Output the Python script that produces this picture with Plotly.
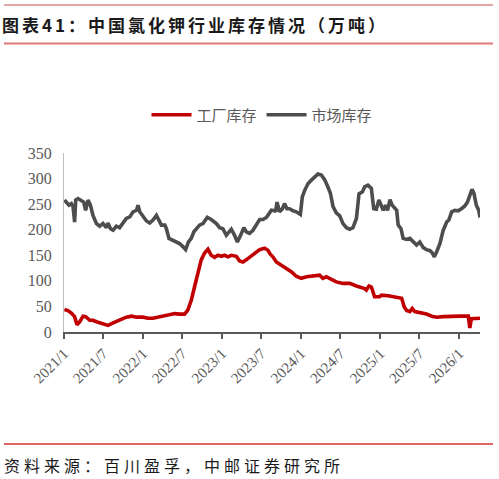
import plotly.graph_objects as go

# ---------------- data ----------------
market_dates = [
    "2021-01-03", "2021-01-12", "2021-01-24", "2021-02-04", "2021-02-12", "2021-02-19", "2021-02-24",
    "2021-03-07", "2021-03-22", "2021-04-02", "2021-04-11", "2021-04-22", "2021-05-03", "2021-05-15",
    "2021-05-31", "2021-06-15", "2021-06-30", "2021-07-16", "2021-07-23", "2021-08-04", "2021-08-16",
    "2021-08-31", "2021-09-15", "2021-10-01", "2021-10-16", "2021-11-01", "2021-11-16", "2021-12-02",
    "2021-12-09", "2021-12-17", "2022-01-01", "2022-01-17", "2022-02-01", "2022-02-16", "2022-03-04",
    "2022-03-16", "2022-03-27", "2022-04-12", "2022-04-19", "2022-05-01",
    "2022-05-19", "2022-06-04", "2022-06-19", "2022-07-04", "2022-07-17", "2022-07-30", "2022-08-12",
    "2022-08-24", "2022-09-04", "2022-09-19", "2022-10-05", "2022-10-25", "2022-11-12", "2022-12-06",
    "2022-12-21", "2023-01-05", "2023-01-21", "2023-01-31", "2023-02-13", "2023-02-28", "2023-03-13",
    "2023-03-28", "2023-04-12", "2023-04-23", "2023-05-08", "2023-05-24", "2023-06-08", "2023-06-24",
    "2023-07-09", "2023-07-25", "2023-08-04", "2023-08-17", "2023-09-01",
    "2023-09-06", "2023-09-12", "2023-09-24", "2023-10-07", "2023-10-17", "2023-10-28", "2023-11-09",
    "2023-11-25", "2023-12-10", "2023-12-29", "2024-01-07", "2024-01-18", "2024-02-02", "2024-02-18",
    "2024-03-04", "2024-03-19", "2024-04-04", "2024-04-19", "2024-05-04", "2024-05-16", "2024-05-28",
    "2024-06-12", "2024-06-28", "2024-07-13", "2024-07-29", "2024-08-13", "2024-08-28", "2024-09-13",
    "2024-09-25", "2024-10-11", "2024-10-21", "2024-11-05", "2024-11-21", "2024-12-02", "2024-12-14",
    "2024-12-26",
    "2025-01-15", "2025-01-26", "2025-02-04", "2025-02-15", "2025-02-25", "2025-03-10", "2025-03-18",
    "2025-03-25", "2025-04-07", "2025-04-17", "2025-05-03", "2025-05-18", "2025-06-02", "2025-06-18",
    "2025-07-03", "2025-07-19", "2025-08-03", "2025-08-19", "2025-08-29", "2025-09-08", "2025-09-19",
    "2025-10-04", "2025-10-19", "2025-11-04", "2025-11-14", "2025-11-27", "2025-12-12", "2025-12-27",
    "2026-01-11", "2026-01-26", "2026-02-08", "2026-02-19", "2026-03-01", "2026-03-10", "2026-03-21",
    "2026-04-01", "2026-04-07",
]
market_stock = [
    258, 254, 248, 251, 245, 215, 258,
    261, 258, 254, 238, 258, 248, 228,
    212, 207, 212, 204, 213, 202, 199,
    207, 204, 212, 222, 225, 235, 238,
    248, 235, 225, 217, 213, 219, 228,
    219, 209, 209, 202, 183,
    180, 176, 173, 167, 161, 176, 183,
    196, 202, 209, 212, 224, 220, 212,
    204, 202, 189, 194, 201, 189, 176,
    189, 204, 196, 193, 199, 209, 220,
    220, 224, 230, 238, 237,
    235, 254, 235, 241, 251, 241, 241,
    237, 235, 230, 264, 277, 290, 297,
    303, 309, 307, 298, 284, 271, 245,
    233, 227, 212, 204, 201, 204, 222,
    270, 274, 284, 287, 281, 241, 240,
    258,
    238, 248, 238, 259, 248, 241, 238,
    209, 202, 183, 181, 183, 176, 170,
    176, 165, 161, 159, 155, 147, 157,
    173, 199, 215, 219, 235, 238, 237,
    241, 246, 254, 268, 279, 271, 248,
    238, 224,
]

factory_dates = [
    "2021-01-03", "2021-01-19", "2021-02-04", "2021-02-19", "2021-03-02", "2021-03-15", "2021-03-30",
    "2021-04-11", "2021-04-30", "2021-05-15", "2021-05-31", "2021-06-23", "2021-07-23", "2021-08-16",
    "2021-09-15", "2021-10-16", "2021-11-09", "2021-12-02", "2022-01-01", "2022-01-24", "2022-02-16",
    "2022-03-19", "2022-04-19",
    "2022-05-04", "2022-05-28", "2022-06-19", "2022-07-12", "2022-07-27", "2022-08-12", "2022-08-27",
    "2022-09-11", "2022-09-27", "2022-10-12", "2022-10-28", "2022-11-12", "2022-11-28", "2022-12-13",
    "2022-12-29", "2023-01-13", "2023-01-28", "2023-02-13", "2023-03-08", "2023-03-23", "2023-04-08",
    "2023-04-23", "2023-05-13", "2023-06-01", "2023-06-24", "2023-07-17", "2023-08-01", "2023-08-12",
    "2023-08-24", "2023-09-09", "2023-10-02", "2023-10-25", "2023-11-17", "2023-12-10", "2024-01-02",
    "2024-01-26", "2024-02-25", "2024-03-27", "2024-04-11", "2024-04-27", "2024-05-20", "2024-06-12",
    "2024-07-13", "2024-08-13", "2024-09-13", "2024-10-06", "2024-10-21", "2024-10-29", "2024-11-10",
    "2024-11-21", "2024-12-06", "2024-12-29",
    "2025-01-07", "2025-02-07", "2025-03-10", "2025-04-10", "2025-04-22", "2025-05-03", "2025-05-18",
    "2025-05-29", "2025-06-10", "2025-07-03", "2025-08-03", "2025-08-27", "2025-09-19", "2025-10-19",
    "2025-11-27", "2026-01-04", "2026-02-12", "2026-02-19", "2026-02-26", "2026-03-21", "2026-04-07",
]
factory_stock = [
    44, 42, 37, 30, 14, 20, 31,
    30, 23, 23, 20, 17, 13, 18,
    23, 29, 31, 29, 29, 27, 27,
    30, 33,
    33, 36, 35, 35, 43, 62, 88,
    111, 141, 154, 162, 150, 146, 150,
    148, 150, 147, 150, 148, 139, 137,
    141, 148, 155, 161, 164, 160, 152,
    147, 137, 131, 124, 118, 109, 105,
    108, 109, 111, 105, 108, 103, 98,
    95, 95, 90, 88, 85, 82, 90,
    88, 69, 69,
    72, 71, 69, 66, 49, 42, 40,
    46, 40, 38, 35, 31, 29, 30,
    31, 31, 31, 8, 26, 27, 27,
]

x_tick_vals = ["2021-01-01", "2021-07-01", "2022-01-01", "2022-07-01", "2023-01-01", "2023-07-01",
               "2024-01-01", "2024-07-01", "2025-01-01", "2025-07-01", "2026-01-01"]
x_tick_text = ["2021/1", "2021/7", "2022/1", "2022/7", "2023/1", "2023/7",
               "2024/1", "2024/7", "2025/1", "2025/7", "2026/1"]
y_tick_vals = [0, 50, 100, 150, 200, 250, 300, 350]

title_text = "图表41：中国氯化钾行业库存情况（万吨）"
source_text = "资料来源：百川盈孚，中邮证券研究所"
series_names = ["工厂库存", "市场库存"]

# ---------------- figure ----------------
SERIF = "Liberation Serif, Noto Sans CJK SC, serif"
AXIS_GRAY = "#595959"

fig = go.Figure()
fig.add_trace(go.Scatter(
    x=factory_dates, y=factory_stock, name=series_names[0], mode="lines",
    line=dict(color="#C00000", width=3.6),
))
fig.add_trace(go.Scatter(
    x=market_dates, y=market_stock, name=series_names[1], mode="lines",
    line=dict(color="#4D4D4D", width=3.6),
))

fig.update_layout(
    width=499, height=479,
    margin=dict(l=64, r=19, t=153, b=147),
    paper_bgcolor="white", plot_bgcolor="white",
    showlegend=True,
    legend=dict(
        orientation="h", x=(262-64)/416, xanchor="center", y=1 + (153-115)/179, yanchor="middle",
        font=dict(family="Noto Sans CJK SC", size=15, color=AXIS_GRAY),
        itemwidth=40, bgcolor="rgba(0,0,0,0)",
    ),
    xaxis=dict(
        type="date", range=["2021-01-01", "2026-04-07"],
        tickmode="array", tickvals=x_tick_vals, ticktext=x_tick_text,
        tickangle=-45, ticks="outside", ticklen=5, tickwidth=2, tickcolor=AXIS_GRAY,
        showline=True, linecolor=AXIS_GRAY, linewidth=2,
        showgrid=False, zeroline=False,
        tickfont=dict(family=SERIF, size=15, color=AXIS_GRAY),
    ),
    yaxis=dict(
        range=[0, 350], tickmode="array", tickvals=y_tick_vals,
        showline=True, linecolor="#BFBFBF", linewidth=1,
        showgrid=False, zeroline=False, ticks="",
        tickfont=dict(family=SERIF, size=16, color=AXIS_GRAY),
        ticklabelstandoff=8,
    ),
)

# title and source
fig.add_annotation(
    text="<span style='letter-spacing:3px'><b>" + title_text + "</b></span>",
    xref="paper", yref="paper", x=-64/416, y=1 + (153-25)/179, xanchor="left", yanchor="middle",
    showarrow=False, font=dict(family="Noto Sans CJK SC", size=17, color="#1a1a1a"),
)
fig.add_annotation(
    text="<span style='letter-spacing:4px'>" + source_text + "</span>",
    xref="paper", yref="paper", x=-62/416, y=-(465-332)/179, xanchor="left", yanchor="middle",
    showarrow=False, font=dict(family="Noto Sans CJK SC", size=16, color="#1a1a1a"),
)

# decorative rules
fig.add_shape(type="line", xref="paper", yref="paper", x0=-60/416, x1=(493-64)/416,
              y0=1 + (153-5)/179, y1=1 + (153-5)/179, line=dict(color="#C0504D", width=1.2))
fig.add_shape(type="line", xref="paper", yref="paper", x0=-60/416, x1=(493-64)/416,
              y0=1 + (153-43.5)/179, y1=1 + (153-43.5)/179, line=dict(color="#E07A7A", width=2))
fig.add_shape(type="line", xref="paper", yref="paper", x0=-60/416, x1=(493-64)/416,
              y0=-(444-332)/179, y1=-(444-332)/179, line=dict(color="#E06666", width=2))

fig.write_html("out.html")
